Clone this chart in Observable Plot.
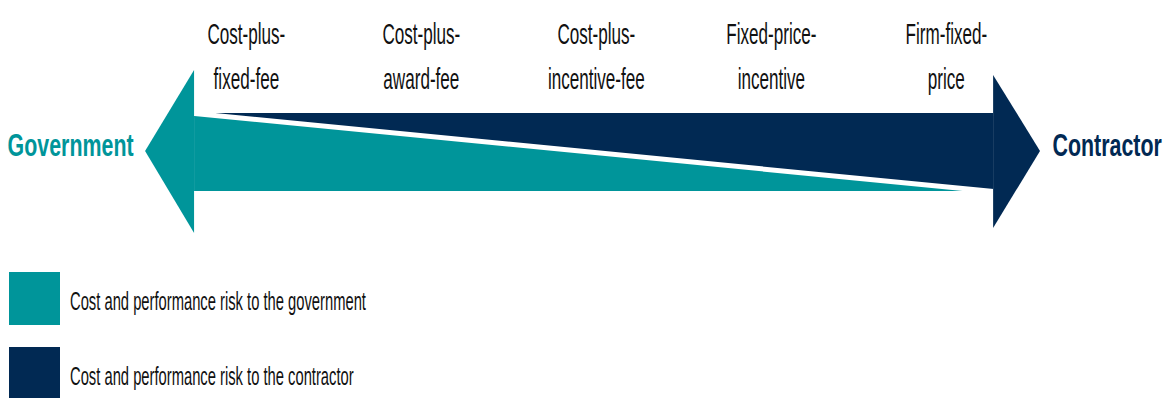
<!DOCTYPE html>
<html>
<head>
<meta charset="utf-8">
<script src="https://cdn.jsdelivr.net/npm/d3@7"></script>
<script src="https://cdn.jsdelivr.net/npm/@observablehq/plot@0.6"></script>
<style>
  html, body { margin: 0; padding: 0; background: #fff; }
  #wrap { position: relative; width: 1166px; height: 398px; overflow: hidden; font-family: "Liberation Sans", Arial, sans-serif; }
  .sw { position: absolute; left: 9px; width: 51px; height: 53px; }
  .lt { position: absolute; left: 70px; font-size: 25px; line-height: 25px; color: #111; white-space: nowrap; transform: scaleX(0.59); transform-origin: left center; }
</style>
</head>
<body>
<div id="wrap"></div>
<script>
// ---- data ----
const contractTypes = [
  "Cost-plus-\nfixed-fee",
  "Cost-plus-\naward-fee",
  "Cost-plus-\nincentive-fee",
  "Fixed-price-\nincentive",
  "Firm-fixed-\nprice"
];
const governmentRiskEnds = [1, 0];   // share of risk carried by government at left / right end
const parties = ["Government", "Contractor"];
const legendLabels = [
  "Cost and performance risk to the government",
  "Cost and performance risk to the contractor"
];
const partyColors = ["#00959A", "#012953"];

// ---- layout (code constants, not data) ----
const bodyStart = -0.296, bodyEnd = 4.27;
const govTip = -0.576, conTip = 4.538, tipY = 0.513;

const teal = partyColors[0], navy = partyColors[1];
const [g0, g1] = governmentRiskEnds;

const tealBody = [{x: bodyStart, lo: 0, hi: g0}, {x: bodyEnd, lo: 0, hi: g1}];
const navyBody = [{x: bodyStart, lo: g0, hi: 1}, {x: bodyEnd, lo: g1, hi: 1}];
const divider = [{x: bodyStart, y: g0}, {x: bodyEnd, y: g1}];
const tealHead = [{x: bodyStart, lo: -0.538, hi: 1.551}, {x: govTip, lo: tipY, hi: tipY}];
const navyHead = [{x: bodyEnd, lo: -0.474, hi: 1.487}, {x: conTip, lo: tipY, hi: tipY}];

const labelData = contractTypes.map((t, i) => ({i, t}));
const partyData = [
  {name: parties[0], x: govTip, anchor: "end", dx: -12, color: teal},
  {name: parties[1], x: conTip, anchor: "start", dx: 12, color: navy}
];

const svg = Plot.plot({
  width: 1166,
  height: 255,
  margin: 0,
  x: {domain: [-1.405, 5.258], axis: null},
  y: {domain: [-0.8205, 2.449], axis: null},
  style: {fontFamily: "'Liberation Sans', Arial, sans-serif", background: "white"},
  marks: [
    Plot.areaY(navyBody, {x: "x", y1: "lo", y2: "hi", fill: navy}),
    Plot.areaY(tealBody, {x: "x", y1: "lo", y2: "hi", fill: teal}),
    Plot.line(divider, {x: "x", y: "y", stroke: "white", strokeWidth: 5}),
    Plot.areaY(tealHead, {x: "x", y1: "lo", y2: "hi", fill: teal}),
    Plot.areaY(navyHead, {x: "x", y1: "lo", y2: "hi", fill: navy}),
    Plot.text(labelData, {
      x: "i", text: "t", frameAnchor: "top", lineAnchor: "top", dy: 12,
      fontSize: 30, lineHeight: 1.5, fill: "#111", textAnchor: "middle"
    }),
    Plot.text(partyData.slice(0, 1), {
      x: "x", y: () => tipY, text: "name", textAnchor: "end", dx: -12, dy: -5,
      lineAnchor: "middle", fontSize: 31, fontWeight: "bold", fill: teal
    }),
    Plot.text(partyData.slice(1), {
      x: "x", y: () => tipY, text: "name", textAnchor: "start", dx: 12, dy: -5,
      lineAnchor: "middle", fontSize: 31, fontWeight: "bold", fill: navy
    })
  ]
});

// squash text horizontally (condensed look)
const groups = svg.querySelectorAll('g[aria-label="text"]');
const factors = [0.57, 0.69, 0.69];
groups.forEach((g, gi) => {
  const s = factors[gi] ?? 1;
  g.querySelectorAll("text").forEach(t => {
    const tr = t.getAttribute("transform");
    if (tr) {
      t.setAttribute("transform", tr + ` scale(${s},1)`);
    } else {
      const x = +t.getAttribute("x") || 0, y = +t.getAttribute("y") || 0;
      t.removeAttribute("x"); t.removeAttribute("y");
      t.setAttribute("transform", `translate(${x},${y}) scale(${s},1)`);
    }
  });
});

const wrap = document.getElementById("wrap");
svg.style.position = "absolute";
svg.style.left = "0px";
svg.style.top = "0px";
wrap.appendChild(svg);

// legend
const swTops = [272, 347];
const txtTops = [289, 364];
legendLabels.forEach((lab, i) => {
  const sw = document.createElement("div");
  sw.className = "sw";
  sw.style.top = swTops[i] + "px";
  sw.style.background = partyColors[i];
  wrap.appendChild(sw);
  const t = document.createElement("div");
  t.className = "lt";
  t.style.top = txtTops[i] + "px";
  t.textContent = lab;
  wrap.appendChild(t);
});
</script>
</body>
</html>
